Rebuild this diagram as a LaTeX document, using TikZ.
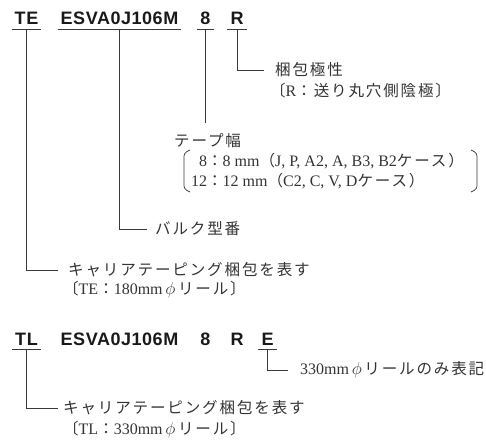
\documentclass[tikz,border=0pt]{standalone}
\usepackage{fontspec}
\setmainfont{Liberation Serif}
\newfontfamily\jpfont[LetterSpace=12, Scale=0.97]{Noto Sans CJK JP}
\newfontfamily\codefont[LetterSpace=3]{Liberation Sans}
\newcommand\jtx[1]{{\jpfont #1}}
\usepackage{xcolor}
\usetikzlibrary{positioning}
\definecolor{ink}{HTML}{333333}
\definecolor{rule}{HTML}{3A3A3A}

\begin{document}
\begin{tikzpicture}[
    x=1pt, y=-1pt,
    code/.style={font=\codefont\bfseries\fontsize{18}{20}\selectfont, anchor=base, inner xsep=3pt, inner ysep=4pt, text=black!90},
    note/.style={font=\fontsize{16}{18}\selectfont, anchor=west, inner sep=0pt, text=ink},
    link/.style={draw=rule, line width=0.7pt},
]
\useasboundingbox (0,0) rectangle (486,444);

% Part number, 180 mm reel
\node[code] (te) at (26.5,25) {TE};
\node[code] (code) at (119.5,25) {ESVA0J106M};
\node[code] (tw) at (205.5,25) {8};
\node[code] (pol) at (237,25) {R};
\foreach \n in {te,code,tw,pol}
    \draw[link] (\n.south west) -- (\n.south east);

% Polarity
\node[note] (polarity) at (275,70) {\jtx{梱包極性}};
\node[note] (polarityR) at (270,91) {\jtx{〔}R\jtx{：送り丸穴側陰極〕}};
\draw[link] (pol.south) |- ([xshift=-11pt]polarity.west);

% Tape width
\node[note] (tapehead) at (174,141) {\jtx{テープ幅}};
\node[note] (tapeA) at (191,161) {\hphantom{1}8\jtx{：}8 mm\jtx{（}J, P, A2, A, B3, B2\jtx{ケース）}};
\node[note] (tapeB) at (191,181) {12\jtx{：}12 mm\jtx{（}C2, C, V, D\jtx{ケース）}};
\draw[link] (tw.south) -- ([yshift=11pt]tw.south |- tapehead.north);
\draw[link, rounded corners=3pt] (190,150) -- (184,153) -- (184,189) -- (190,192);
\draw[link, rounded corners=3pt] (471,150) -- (477,153) -- (477,189) -- (471,192);

% Bulk part number
\node[note] (bulk) at (155,229) {\jtx{バルク型番}};
\draw[link] (code.south) |- ([xshift=-8pt]bulk.west);

% Carrier taping
\node[note] (carrier) at (68,270) {\jtx{キャリアテーピング梱包を表す}};
\node[note] (carrierTE) at (63,290) {\jtx{〔}TE\jtx{：}180mm\,$\phi$\,\jtx{リール〕}};
\draw[link] (te.south) |- ([xshift=-10pt]carrier.west);

% Part number, 330 mm reel
\node[code] (tl) at (26.5,345) {TL};
\node[code] (codeL) at (119.5,345) {ESVA0J106M};
\node[code] (twL) at (205.5,345) {8};
\node[code] (polL) at (237,345) {R};
\node[code] (ext) at (267.5,345) {E};
\foreach \n in {tl,ext}
    \draw[link] (\n.south west) -- (\n.south east);

% Reel mark
\node[note] (large) at (300,370) {330mm\,$\phi$\,\jtx{リールのみ表記}};
\draw[link] (ext.south) |- ([xshift=-12pt]large.west);

% Carrier taping
\node[note] (carrierL) at (63,408) {\jtx{キャリアテーピング梱包を表す}};
\node[note] (carrierTL) at (63,430) {\jtx{〔}TL\jtx{：}330mm\,$\phi$\,\jtx{リール〕}};
\draw[link] (tl.south) |- ([xshift=-5pt]carrierL.west);

\end{tikzpicture}
\end{document}
